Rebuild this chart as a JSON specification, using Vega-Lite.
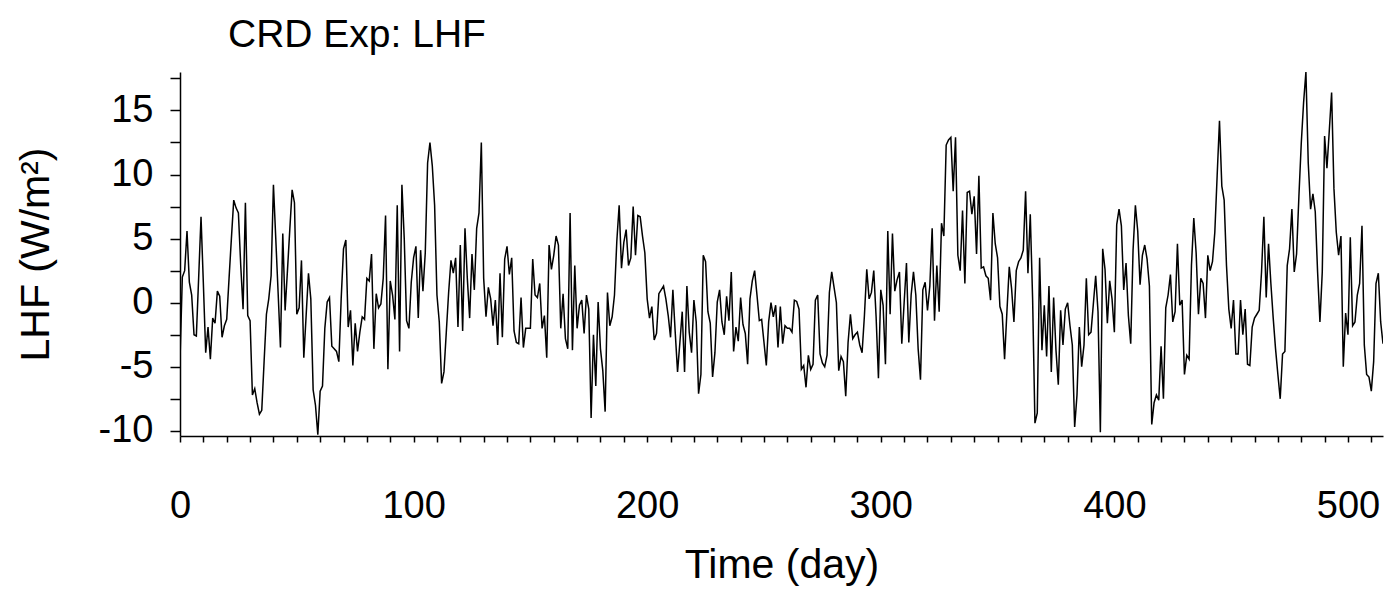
{
  "$schema": "https://vega.github.io/schema/vega-lite/v6.json",
  "autosize": "none",
  "width": 1203,
  "height": 364,
  "padding": {"left": 180, "top": 72, "right": 5, "bottom": 157},
  "background": "white",
  "config": {
    "font": "Liberation Sans",
    "view": {"stroke": null},
    "axis": {"grid": false, "domainColor": "black", "domainWidth": 1.5, "tickColor": "black", "tickWidth": 1.5, "labelColor": "black", "titleColor": "black", "labelFont": "Liberation Sans", "titleFont": "Liberation Sans", "titleFontWeight": "normal"}
  },
  "title": {"text": "CRD Exp: LHF", "anchor": "start", "frame": "group", "dx": 48, "offset": 17, "dy": 44, "fontSize": 39, "fontWeight": "normal", "color": "black", "font": "Liberation Sans", "baseline": "alphabetic"},
  "data": {"values": [
{"d":0,"v":-4.5},{"d":1,"v":2.0},{"d":2,"v":2.5},{"d":3,"v":5.6},{"d":4,"v":1.6},{"d":5,"v":0.6},{"d":6,"v":-2.5},{"d":7,"v":-2.6},{"d":8,"v":2.0},{"d":9,"v":6.7},
{"d":10,"v":1.5},{"d":11,"v":-3.9},{"d":12,"v":-1.9},{"d":13,"v":-4.4},{"d":14,"v":-1.2},{"d":15,"v":-1.6},{"d":16,"v":0.9},{"d":17,"v":0.5},{"d":18,"v":-2.7},{"d":19,"v":-1.8},
{"d":20,"v":-1.3},{"d":21,"v":1.9},{"d":22,"v":5.0},{"d":23,"v":8.0},{"d":24,"v":7.4},{"d":25,"v":7.0},{"d":26,"v":2.9},{"d":27,"v":-0.5},{"d":28,"v":7.8},{"d":29,"v":-1.0},
{"d":30,"v":-1.4},{"d":31,"v":-7.2},{"d":32,"v":-6.7},{"d":33,"v":-7.8},{"d":34,"v":-8.7},{"d":35,"v":-8.4},{"d":36,"v":-4.6},{"d":37,"v":-0.9},{"d":38,"v":0.3},{"d":39,"v":2.1},
{"d":40,"v":9.2},{"d":41,"v":5.0},{"d":42,"v":0.8},{"d":43,"v":-3.5},{"d":44,"v":5.4},{"d":45,"v":-0.6},{"d":46,"v":2.5},{"d":47,"v":5.7},{"d":48,"v":8.8},{"d":49,"v":7.8},
{"d":50,"v":-0.9},{"d":51,"v":-0.4},{"d":52,"v":3.3},{"d":53,"v":-4.3},{"d":54,"v":-1.0},{"d":55,"v":2.3},{"d":56,"v":0.3},{"d":57,"v":-6.8},{"d":58,"v":-8.0},{"d":59,"v":-10.3},
{"d":60,"v":-6.9},{"d":61,"v":-6.5},{"d":62,"v":-2.0},{"d":63,"v":0.05},{"d":64,"v":0.4},{"d":65,"v":-3.4},{"d":66,"v":-3.6},{"d":67,"v":-3.8},{"d":68,"v":-4.6},{"d":69,"v":0.3},
{"d":70,"v":4.2},{"d":71,"v":4.9},{"d":72,"v":-1.9},{"d":73,"v":-0.6},{"d":74,"v":-4.9},{"d":75,"v":-1.6},{"d":76,"v":-3.8},{"d":77,"v":-2.3},{"d":78,"v":-1.1},{"d":79,"v":-1.3},
{"d":80,"v":1.9},{"d":81,"v":1.7},{"d":82,"v":3.8},{"d":83,"v":-3.6},{"d":84,"v":0.7},{"d":85,"v":-0.4},{"d":86,"v":-0.1},{"d":87,"v":1.9},{"d":88,"v":6.8},{"d":89,"v":-5.2},
{"d":90,"v":1.7},{"d":91,"v":0.6},{"d":92,"v":-1.3},{"d":93,"v":7.6},{"d":94,"v":-3.8},{"d":95,"v":9.2},{"d":96,"v":5.0},{"d":97,"v":-1.4},{"d":98,"v":-2.0},{"d":99,"v":1.6},
{"d":100,"v":3.5},{"d":101,"v":4.4},{"d":102,"v":-1.2},{"d":103,"v":4.1},{"d":104,"v":0.9},{"d":105,"v":3.9},{"d":106,"v":10.9},{"d":107,"v":12.5},{"d":108,"v":10.7},{"d":109,"v":7.6},
{"d":110,"v":0.6},{"d":111,"v":-1.5},{"d":112,"v":-6.3},{"d":113,"v":-5.4},{"d":114,"v":-2.3},{"d":115,"v":0.8},{"d":116,"v":3.3},{"d":117,"v":2.3},{"d":118,"v":3.5},{"d":119,"v":-1.9},
{"d":120,"v":4.5},{"d":121,"v":-2.2},{"d":122,"v":5.8},{"d":123,"v":1.9},{"d":124,"v":-1.2},{"d":125,"v":3.8},{"d":126,"v":1.0},{"d":127,"v":5.8},{"d":128,"v":7.0},{"d":129,"v":12.5},
{"d":130,"v":1.9},{"d":131,"v":-1.1},{"d":132,"v":1.2},{"d":133,"v":0.3},{"d":134,"v":-1.8},{"d":135,"v":0.2},{"d":136,"v":-3.3},{"d":137,"v":2.3},{"d":138,"v":-2.7},{"d":139,"v":3.4},
{"d":140,"v":4.4},{"d":141,"v":2.2},{"d":142,"v":3.5},{"d":143,"v":-2.2},{"d":144,"v":-3.1},{"d":145,"v":-3.2},{"d":146,"v":0.4},{"d":147,"v":-3.5},{"d":148,"v":-2.0},{"d":149,"v":-2.0},
{"d":150,"v":-2.0},{"d":151,"v":3.4},{"d":152,"v":0.6},{"d":153,"v":0.4},{"d":154,"v":1.5},{"d":155,"v":-2.0},{"d":156,"v":-1.0},{"d":157,"v":-4.3},{"d":158,"v":4.5},{"d":159,"v":2.6},
{"d":160,"v":3.7},{"d":161,"v":5.2},{"d":162,"v":4.5},{"d":163,"v":-2.0},{"d":164,"v":0.7},{"d":165,"v":-2.8},{"d":166,"v":-3.6},{"d":167,"v":7.0},{"d":168,"v":-3.7},{"d":169,"v":2.9},
{"d":170,"v":-2.0},{"d":171,"v":-0.2},{"d":172,"v":0.2},{"d":173,"v":-2.4},{"d":174,"v":0.6},{"d":175,"v":-0.5},{"d":176,"v":-9.0},{"d":177,"v":-2.5},{"d":178,"v":-6.5},{"d":179,"v":0.05},
{"d":180,"v":-3.6},{"d":181,"v":-5.3},{"d":182,"v":-8.5},{"d":183,"v":0.8},{"d":184,"v":-1.8},{"d":185,"v":-1.1},{"d":186,"v":0.6},{"d":187,"v":4.8},{"d":188,"v":7.6},{"d":189,"v":2.7},
{"d":190,"v":4.7},{"d":191,"v":5.7},{"d":192,"v":2.9},{"d":193,"v":3.5},{"d":194,"v":7.5},{"d":195,"v":3.7},{"d":196,"v":6.8},{"d":197,"v":6.7},{"d":198,"v":5.2},{"d":199,"v":3.9},
{"d":200,"v":0.3},{"d":201,"v":-1.2},{"d":202,"v":-0.3},{"d":203,"v":-2.9},{"d":204,"v":-2.4},{"d":205,"v":0.7},{"d":206,"v":1.0},{"d":207,"v":1.3},{"d":208,"v":0.3},{"d":209,"v":-1.0},
{"d":210,"v":-2.7},{"d":211,"v":1.0},{"d":212,"v":-2.3},{"d":213,"v":-5.4},{"d":214,"v":-3.1},{"d":215,"v":-0.7},{"d":216,"v":-5.4},{"d":217,"v":1.3},{"d":218,"v":-2.3},{"d":219,"v":-3.9},
{"d":220,"v":0.2},{"d":221,"v":-1.5},{"d":222,"v":-7.1},{"d":223,"v":-5.6},{"d":224,"v":3.7},{"d":225,"v":3.2},{"d":226,"v":-0.7},{"d":227,"v":-1.6},{"d":228,"v":-5.8},{"d":229,"v":-3.9},
{"d":230,"v":0.05},{"d":231,"v":1.0},{"d":232,"v":-1.5},{"d":233,"v":-2.5},{"d":234,"v":0.5},{"d":235,"v":-1.4},{"d":236,"v":2.4},{"d":237,"v":-3.8},{"d":238,"v":-1.9},{"d":239,"v":-3.0},
{"d":240,"v":0.4},{"d":241,"v":-1.7},{"d":242,"v":-2.4},{"d":243,"v":-4.8},{"d":244,"v":0.3},{"d":245,"v":1.7},{"d":246,"v":2.5},{"d":247,"v":0.6},{"d":248,"v":-1.4},{"d":249,"v":-1.3},
{"d":250,"v":-3.1},{"d":251,"v":-4.9},{"d":252,"v":-1.5},{"d":253,"v":0.0},{"d":254,"v":-1.1},{"d":255,"v":-0.2},{"d":256,"v":-3.5},{"d":257,"v":-0.3},{"d":258,"v":-3.2},{"d":259,"v":-1.8},
{"d":260,"v":-2.0},{"d":261,"v":-2.0},{"d":262,"v":-2.3},{"d":263,"v":0.2},{"d":264,"v":0.1},{"d":265,"v":-0.5},{"d":266,"v":-5.2},{"d":267,"v":-4.9},{"d":268,"v":-6.6},{"d":269,"v":-4.1},
{"d":270,"v":-5.2},{"d":271,"v":-4.8},{"d":272,"v":0.2},{"d":273,"v":0.6},{"d":274,"v":-4.0},{"d":275,"v":-4.7},{"d":276,"v":-5.0},{"d":277,"v":-4.1},{"d":278,"v":0.8},{"d":279,"v":2.4},
{"d":280,"v":1.2},{"d":281,"v":0.0},{"d":282,"v":-5.3},{"d":283,"v":-4.2},{"d":284,"v":-4.6},{"d":285,"v":-7.3},{"d":286,"v":-3.1},{"d":287,"v":-0.9},{"d":288,"v":-2.8},{"d":289,"v":-2.5},
{"d":290,"v":-2.3},{"d":291,"v":-3.3},{"d":292,"v":-3.9},{"d":293,"v":-1.0},{"d":294,"v":2.6},{"d":295,"v":0.3},{"d":296,"v":0.8},{"d":297,"v":2.5},{"d":298,"v":-1.1},{"d":299,"v":-5.9},
{"d":300,"v":1.0},{"d":301,"v":-0.2},{"d":302,"v":-4.8},{"d":303,"v":5.6},{"d":304,"v":-0.9},{"d":305,"v":5.4},{"d":306,"v":0.9},{"d":307,"v":1.8},{"d":308,"v":2.4},{"d":309,"v":-3.2},
{"d":310,"v":0.0},{"d":311,"v":3.1},{"d":312,"v":-3.1},{"d":313,"v":0.6},{"d":314,"v":2.4},{"d":315,"v":0.6},{"d":316,"v":-3.6},{"d":317,"v":-6.0},{"d":318,"v":1.0},{"d":319,"v":1.6},
{"d":320,"v":-0.6},{"d":321,"v":1.3},{"d":322,"v":5.8},{"d":323,"v":-1.4},{"d":324,"v":2.9},{"d":325,"v":-0.7},{"d":326,"v":6.2},{"d":327,"v":5.2},{"d":328,"v":12.3},{"d":329,"v":12.7},
{"d":330,"v":12.9},{"d":331,"v":8.7},{"d":332,"v":12.9},{"d":333,"v":3.7},{"d":334,"v":2.5},{"d":335,"v":7.2},{"d":336,"v":1.5},{"d":337,"v":8.6},{"d":338,"v":8.7},{"d":339,"v":6.9},
{"d":340,"v":8.3},{"d":341,"v":3.8},{"d":342,"v":9.9},{"d":343,"v":2.7},{"d":344,"v":2.8},{"d":345,"v":2.1},{"d":346,"v":1.9},{"d":347,"v":0.2},{"d":348,"v":7.0},{"d":349,"v":4.6},
{"d":350,"v":3.5},{"d":351,"v":-0.3},{"d":352,"v":-0.9},{"d":353,"v":-4.4},{"d":354,"v":-0.7},{"d":355,"v":2.8},{"d":356,"v":1.1},{"d":357,"v":-1.5},{"d":358,"v":2.5},{"d":359,"v":3.2},
{"d":360,"v":3.5},{"d":361,"v":4.1},{"d":362,"v":8.7},{"d":363,"v":2.3},{"d":364,"v":6.9},{"d":365,"v":0.3},{"d":366,"v":-9.4},{"d":367,"v":-8.6},{"d":368,"v":3.5},{"d":369,"v":-3.7},
{"d":370,"v":-0.2},{"d":371,"v":-4.2},{"d":372,"v":1.3},{"d":373,"v":-5.4},{"d":374,"v":0.4},{"d":375,"v":-3.7},{"d":376,"v":-6.4},{"d":377,"v":-0.6},{"d":378,"v":-3.3},{"d":379,"v":-0.5},
{"d":380,"v":0.0},{"d":381,"v":-1.8},{"d":382,"v":-3.3},{"d":383,"v":-9.7},{"d":384,"v":-7.2},{"d":385,"v":-1.9},{"d":386,"v":-5.0},{"d":387,"v":-3.3},{"d":388,"v":1.9},{"d":389,"v":-2.5},
{"d":390,"v":-2.3},{"d":391,"v":-0.1},{"d":392,"v":2.1},{"d":393,"v":-0.7},{"d":394,"v":-10.1},{"d":395,"v":4.2},{"d":396,"v":2.6},{"d":397,"v":-1.6},{"d":398,"v":1.7},{"d":399,"v":0.3},
{"d":400,"v":-2.3},{"d":401,"v":6.1},{"d":402,"v":7.3},{"d":403,"v":6.0},{"d":404,"v":1.0},{"d":405,"v":3.1},{"d":406,"v":-1.0},{"d":407,"v":-3.2},{"d":408,"v":4.1},{"d":409,"v":7.6},
{"d":410,"v":5.6},{"d":411,"v":1.4},{"d":412,"v":3.7},{"d":413,"v":4.5},{"d":414,"v":3.4},{"d":415,"v":1.3},{"d":416,"v":-9.5},{"d":417,"v":-7.8},{"d":418,"v":-7.2},{"d":419,"v":-7.6},
{"d":420,"v":-3.4},{"d":421,"v":-7.5},{"d":422,"v":-0.4},{"d":423,"v":0.6},{"d":424,"v":2.2},{"d":425,"v":-1.5},{"d":426,"v":-0.7},{"d":427,"v":4.6},{"d":428,"v":-0.2},{"d":429,"v":0.2},
{"d":430,"v":-5.6},{"d":431,"v":-4.1},{"d":432,"v":-4.4},{"d":433,"v":2.9},{"d":434,"v":6.6},{"d":435,"v":3.9},{"d":436,"v":-0.9},{"d":437,"v":1.9},{"d":438,"v":1.5},{"d":439,"v":-1.2},
{"d":440,"v":3.7},{"d":441,"v":2.5},{"d":442,"v":3.2},{"d":443,"v":5.5},{"d":444,"v":9.9},{"d":445,"v":14.2},{"d":446,"v":9.1},{"d":447,"v":8.0},{"d":448,"v":2.9},{"d":449,"v":-0.5},
{"d":450,"v":-2.0},{"d":451,"v":0.2},{"d":452,"v":-4.0},{"d":453,"v":-4.0},{"d":454,"v":0.2},{"d":455,"v":-2.5},{"d":456,"v":-0.5},{"d":457,"v":-4.8},{"d":458,"v":-4.9},{"d":459,"v":-1.9},
{"d":460,"v":-1.2},{"d":461,"v":-0.9},{"d":462,"v":-0.6},{"d":463,"v":2.4},{"d":464,"v":6.7},{"d":465,"v":0.4},{"d":466,"v":4.6},{"d":467,"v":1.5},{"d":468,"v":-1.2},{"d":469,"v":-3.6},
{"d":470,"v":-5.6},{"d":471,"v":-7.5},{"d":472,"v":-4.0},{"d":473,"v":-3.8},{"d":474,"v":2.9},{"d":475,"v":4.2},{"d":476,"v":7.3},{"d":477,"v":2.4},{"d":478,"v":3.8},{"d":479,"v":8.3},
{"d":480,"v":12.4},{"d":481,"v":15.6},{"d":482,"v":18.0},{"d":483,"v":10.9},{"d":484,"v":7.3},{"d":485,"v":8.5},{"d":486,"v":7.1},{"d":487,"v":2.4},{"d":488,"v":-1.5},{"d":489,"v":2.4},
{"d":490,"v":13.0},{"d":491,"v":10.5},{"d":492,"v":13.4},{"d":493,"v":16.4},{"d":494,"v":8.9},{"d":495,"v":5.5},{"d":496,"v":3.7},{"d":497,"v":5.2},{"d":498,"v":-5.0},{"d":499,"v":-0.8},
{"d":500,"v":-2.5},{"d":501,"v":5.1},{"d":502,"v":-1.8},{"d":503,"v":-1.5},{"d":504,"v":0.6},{"d":505,"v":1.5},{"d":506,"v":6.0},{"d":507,"v":-3.3},{"d":508,"v":-5.6},{"d":509,"v":-5.8},
{"d":510,"v":-6.9},{"d":511,"v":-4.6},{"d":512,"v":1.5},{"d":513,"v":2.3},{"d":514,"v":-1.5},{"d":515,"v":-3.2}
  ]},
  "mark": {"type": "line", "color": "black", "strokeWidth": 1.5, "clip": true},
  "encoding": {
    "x": {
      "field": "d", "type": "quantitative",
      "scale": {"domain": [0, 515], "nice": false, "zero": false},
      "axis": {
        "title": "Time (day)", "titleFontSize": 41, "titlePadding": 20,
        "values": [0,10,20,30,40,50,60,70,80,90,100,110,120,130,140,150,160,170,180,190,200,210,220,230,240,250,260,270,280,290,300,310,320,330,340,350,360,370,380,390,400,410,420,430,440,450,460,470,480,490,500,510],
        "labelExpr": "datum.value % 100 === 0 ? '' + datum.value : ''",
        "labelFontSize": 38, "labelPadding": 45, "tickSize": 6, "labelFlush": false, "labelOverlap": false
      }
    },
    "y": {
      "field": "v", "type": "quantitative",
      "scale": {"domain": [-10.4, 18.0], "nice": false, "zero": false},
      "axis": {
        "title": "LHF (W/m²)", "titleFontSize": 41, "titlePadding": 41,
        "values": [-10,-7.5,-5,-2.5,0,2.5,5,7.5,10,12.5,15,17.5],
        "labelExpr": "datum.value % 5 === 0 ? '' + datum.value : ''",
        "labelFontSize": 38, "labelPadding": 17, "tickSize": 10, "labelOverlap": false
      }
    }
  }
}
